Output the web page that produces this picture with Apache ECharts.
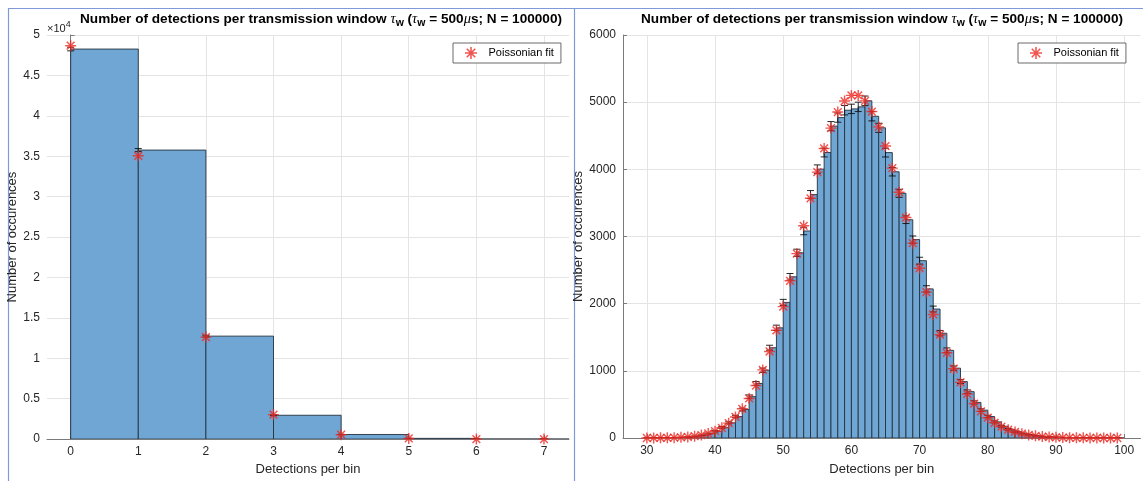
<!DOCTYPE html>
<html>
<head>
<meta charset="utf-8">
<script src="https://cdn.jsdelivr.net/npm/echarts@6/dist/echarts.min.js"></script>
<style>
  html, body { margin: 0; padding: 0; background: #ffffff; overflow: hidden; }
  #chart { width: 1143px; height: 481px; }
</style>
</head>
<body>
<div id="chart"></div>
<script>
// ---------------- DATA ----------------
// Left panel
const leftBins   = [0, 1, 2, 3, 4, 5, 6, 7];
const leftCounts = [48260, 35760, 12740, 2950, 570, 90, 12, 1];
const leftErr    = [220, 189, 113, 54, 24, 9, 3, 1];
const leftFit    = [48680, 35050, 12620, 3030, 545, 78, 9, 1];
const leftXTicks = [0, 1, 2, 3, 4, 5, 6, 7];

// Right panel
const rightBins = [30,31,32,33,34,35,36,37,38,39,40,41,42,43,44,45,46,47,48,49,
                   50,51,52,53,54,55,56,57,58,59,60,61,62,63,64,65,66,67,68,69,
                   70,71,72,73,74,75,76,77,78,79,80,81,82,83,84,85,86,87,88,89,
                   90,91,92,93,94,95,96,97,98,99];
const rightCounts = [0,1,2,3,5,8,14,24,40,65,100,158,226,320,424,616,812,1009,1344,1640,
                     2019,2400,2758,3082,3624,4003,4250,4643,4770,4880,4900,4930,5020,4790,4618,4249,3964,3643,3250,2954,
                     2640,2220,1920,1560,1305,1040,840,690,530,415,320,240,175,130,95,68,48,33,22,15,
                     10,7,4,3,2,1,1,0,0,0];
const rightErr = [0,1,1,2,2,3,4,5,6,8,10,13,15,18,21,25,28,32,37,40,
                  45,49,53,56,60,63,65,68,69,70,70,70,71,69,68,65,63,60,57,54,
                  51,47,44,39,36,32,29,26,23,20,18,15,13,11,10,8,7,6,5,4,
                  3,3,2,2,1,1,1,0,0,0];
const rightFit = [0,1,2,3,5,10,16,27,43,67,102,152,221,313,435,589,781,1014,1288,1604,
                  1956,2340,2745,3159,3569,3958,4311,4614,4853,5017,5101,5101,5019,4860,4632,4347,4018,3658,3282,2901,
                  2528,2172,1840,1538,1268,1031,828,656,513,396,302,227,169,124,90,65,46,32,22,15,
                  10,7,4,3,2,1,1,0,0,0];
const rightXTicks = [30, 40, 50, 60, 70, 80, 90, 100];

// ---------------- STYLE ----------------
const FONT = 'Liberation Sans, Arial, Helvetica, sans-serif';
const BAR_FILL = '#6FA6D3';
const BAR_EDGE = '#23323f';
const STAR_COLOR = '#EE2A24';
const GRID_COLOR = '#e4e4e4';
const AXIS_COLOR = '#7a7a7a';
const TEXT_COLOR = '#262626';
const STAR_PATH = 'path://M-1.3,-10L1.3,-10L1.3,10L-1.3,10Z M-10,-1.3L10,-1.3L10,1.3L-10,1.3Z ' +
  'M-7.98,-6.14L-6.14,-7.98L7.98,6.14L6.14,7.98Z M6.14,-7.98L7.98,-6.14L-6.14,7.98L-7.98,6.14Z';

function zip(a, b, c) { return a.map((v, i) => c ? [v, b[i], c[i]] : [v, b[i]]); }

function histRender(params, api) {
  const k = api.value(0), v = api.value(1);
  const p0 = api.coord([k, 0]);
  const p1 = api.coord([k + 1, v]);
  return {
    type: 'rect',
    shape: { x: p0[0], y: p1[1], width: p1[0] - p0[0], height: p0[1] - p1[1] },
    style: { fill: BAR_FILL, stroke: BAR_EDGE, lineWidth: 0.9 }
  };
}
function errRender(params, api) {
  const k = api.value(0), v = api.value(1), e = api.value(2);
  const t = api.coord([k, v + e]);
  const b = api.coord([k, v - e]);
  const h = 3.5;
  const st = { stroke: '#111', lineWidth: 0.9 };
  return {
    type: 'group',
    children: [
      { type: 'line', shape: { x1: t[0], y1: t[1], x2: b[0], y2: b[1] }, style: st },
      { type: 'line', shape: { x1: t[0] - h, y1: t[1], x2: t[0] + h, y2: t[1] }, style: st },
      { type: 'line', shape: { x1: b[0] - h, y1: b[1], x2: b[0] + h, y2: b[1] }, style: st }
    ]
  };
}

const titleRich = {
  b: { fontSize: 13.6, fontWeight: 'bold', fontFamily: FONT, fill: '#000' },
  g: { fontSize: 14.5, fontStyle: 'italic', fontFamily: 'Liberation Serif, serif', fill: '#000' },
  s: { fontSize: 10.5, fontWeight: 'bold', fontFamily: FONT, fill: '#000', padding: [9, 0, 0, 0] }
};
const titleText = '{b|Number of detections per transmission window }{g|τ}{s|w}{b| (}{g|τ}{s|w}{b| = 500}{g|μ}{b|s; N = 100000)}';

function xAxisCfg(gridIndex, min, max, ticks, nameGap) {
  return {
    type: 'value', gridIndex, min, max,
    name: 'Detections per bin', nameLocation: 'middle', nameGap,
    nameTextStyle: { fontFamily: FONT, fontSize: 13, color: TEXT_COLOR },
    axisLine: { show: true, lineStyle: { color: AXIS_COLOR, width: 1 } },
    axisTick: { show: true, inside: true, length: 4, customValues: ticks, lineStyle: { color: AXIS_COLOR } },
    axisLabel: { customValues: ticks, fontFamily: FONT, fontSize: 12, color: TEXT_COLOR, margin: 7 },
    splitLine: { show: true, lineStyle: { color: GRID_COLOR, width: 1 } }
  };
}
function yAxisCfg(gridIndex, max, interval, nameGap, formatter) {
  return {
    type: 'value', gridIndex, min: 0, max, interval,
    name: 'Number of occurences', nameLocation: 'middle', nameGap,
    nameTextStyle: { fontFamily: FONT, fontSize: 13, color: TEXT_COLOR },
    axisLine: { show: true, lineStyle: { color: AXIS_COLOR, width: 1 } },
    axisTick: { show: true, inside: true, length: 4, lineStyle: { color: AXIS_COLOR } },
    axisLabel: { fontFamily: FONT, fontSize: 12, color: TEXT_COLOR, margin: 7, formatter },
    splitLine: { show: true, lineStyle: { color: GRID_COLOR, width: 1 } }
  };
}
function legendCfg(left) {
  return {
    left, top: 43,
    data: [{ name: 'Poissonian fit', icon: STAR_PATH }],
    orient: 'horizontal',
    itemWidth: 25, itemHeight: 12,
    padding: [4, 7, 4, 12],
    borderColor: '#6a6a6a', borderWidth: 1, borderRadius: 0,
    backgroundColor: '#fff',
    selectedMode: false,
    itemStyle: { color: STAR_COLOR },
    textStyle: { fontFamily: FONT, fontSize: 11, color: '#000' }
  };
}

const chart = echarts.init(document.getElementById('chart'), null, { renderer: 'canvas', width: 1143, height: 481 });
chart.setOption({
  backgroundColor: '#ffffff',
  animation: false,
  grid: [
    { left: 47, right: 1143 - 569, top: 35, bottom: 481 - 447 },
    { left: 623, right: 2.5, top: 35, bottom: 481 - 441 }
  ],
  xAxis: [
    xAxisCfg(0, -0.35, 7.37, leftXTicks, 19),
    xAxisCfg(1, 26.5, 102.4, rightXTicks, 25)
  ],
  yAxis: [
    yAxisCfg(0, 50000, 5000, 18, v => String(v / 10000)),
    yAxisCfg(1, 6000, 1000, 23, v => String(v))
  ],
  legend: [legendCfg(453), legendCfg(1018)],
  series: [
    { type: 'custom', name: 'hist0', xAxisIndex: 0, yAxisIndex: 0, clip: true, z: 2,
      renderItem: histRender, data: zip(leftBins, leftCounts) },
    { type: 'custom', name: 'err0', xAxisIndex: 0, yAxisIndex: 0, clip: true, z: 3,
      renderItem: errRender, data: zip(leftBins, leftCounts, leftErr) },
    { type: 'scatter', name: 'Poissonian fit', xAxisIndex: 0, yAxisIndex: 0, z: 4,
      symbol: STAR_PATH, symbolSize: 11, itemStyle: { color: STAR_COLOR },
      data: zip(leftBins, leftFit) },
    { type: 'custom', name: 'hist1', xAxisIndex: 1, yAxisIndex: 1, clip: true, z: 2,
      renderItem: histRender, data: zip(rightBins, rightCounts) },
    { type: 'custom', name: 'err1', xAxisIndex: 1, yAxisIndex: 1, clip: true, z: 3,
      renderItem: errRender, data: zip(rightBins, rightCounts, rightErr) },
    { type: 'scatter', name: 'Poissonian fit', xAxisIndex: 1, yAxisIndex: 1, z: 4,
      symbol: STAR_PATH, symbolSize: 11, itemStyle: { color: STAR_COLOR },
      data: zip(rightBins, rightFit) }
  ],
  graphic: [
    { type: 'rect', silent: true, z: 0,
      shape: { x: 8.5, y: 8.5, width: 566, height: 500 },
      style: { fill: 'none', stroke: '#7f9ad6', lineWidth: 1.2 } },
    { type: 'line', silent: true, z: 0,
      shape: { x1: 575, y1: 8.5, x2: 1143, y2: 8.5 },
      style: { stroke: '#7f9ad6', lineWidth: 1.2 } },
    { type: 'text', x: 321, y: 19, z: 10,
      style: { text: titleText, rich: titleRich, align: 'center', verticalAlign: 'middle' } },
    { type: 'text', x: 882, y: 19, z: 10,
      style: { text: titleText, rich: titleRich, align: 'center', verticalAlign: 'middle' } },
    { type: 'text', x: 47, y: 29, z: 10,
      style: { text: '{a|×10}{s|4}', align: 'left', verticalAlign: 'middle',
        rich: { a: { fontSize: 11, fontFamily: FONT, fill: TEXT_COLOR },
                s: { fontSize: 9, fontFamily: FONT, fill: TEXT_COLOR, padding: [0, 0, 8, 0] } } } }
  ]
});
</script>
</body>
</html>
